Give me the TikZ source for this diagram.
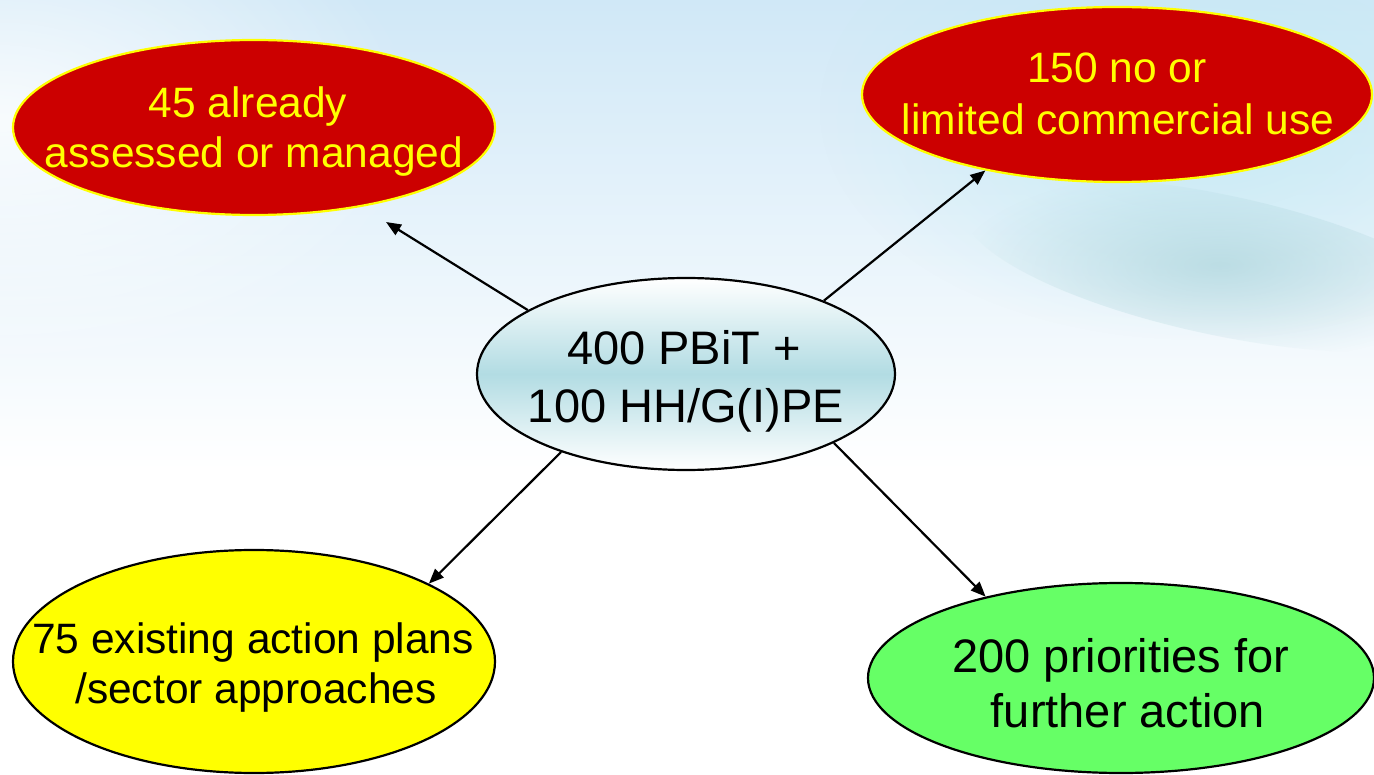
\documentclass[tikz,border=0pt]{standalone}
\usepackage{fontspec}
\setmainfont{Liberation Sans}
\usetikzlibrary{shapes.geometric,arrows.meta,fadings}
\definecolor{redfill}{RGB}{204,0,0}
\definecolor{yel}{RGB}{255,255,0}
\definecolor{grn}{RGB}{102,255,102}
\definecolor{teal1}{RGB}{178,220,227}
\definecolor{bgtop}{RGB}{208,232,247}
\definecolor{bgcyan}{RGB}{196,234,244}
\definecolor{swoosh}{RGB}{165,208,215}
\tikzfading[name=softcirc, inner color=transparent!0, outer color=transparent!100]
\begin{document}
\begin{tikzpicture}[x=1pt,y=-1pt,
  ell/.style={ellipse, inner sep=0pt, line width=2.2pt},
  redell/.style={ell, draw=yel, fill=redfill},
  yelell/.style={ell, draw=black, fill=yel},
  grnell/.style={ell, draw=black, fill=grn},
  cenell/.style={ell, draw=black, top color=white, bottom color=white, middle color=teal1},
  redtxt/.style={anchor=base, text=yel, inner sep=0pt, font=\fontsize{42.5}{50}\selectfont},
  blktxt/.style={anchor=base, text=black, inner sep=0pt, font=\fontsize{42.5}{50}\selectfont},
  bigtxt/.style={anchor=base, text=black, inner sep=0pt, font=\fontsize{47}{56}\selectfont},
  arr/.style={line width=2.2pt, -{Triangle[length=15pt,width=12pt]}}
]
\useasboundingbox (0,0) rectangle (1374,775);
\clip (0,0) rectangle (1374,775);
% background
\fill[white] (0,0) rectangle (1374,775);
\shade[top color=bgtop, bottom color=white] (0,0) rectangle (1374,470);
\fill[white, opacity=0.8, path fading=softcirc] (0,120) ellipse (420 and 260);
\fill[bgcyan, opacity=0.9, path fading=softcirc] (1200,110) ellipse (380 and 230);
\fill[swoosh, opacity=0.6, path fading=softcirc, rotate around={-12:(1220,265)}] (1220,265) ellipse (260 and 70);

% ellipses
\node[redell, minimum width=482pt, minimum height=175pt] (tl) at (254,127.5) {};
\node[redell, minimum width=510pt, minimum height=175pt] (tr) at (1117,94.5) {};
\node[cenell, minimum width=418pt, minimum height=192pt] (c) at (686,374) {};
\node[yelell, minimum width=482pt, minimum height=223pt] (bl) at (254,661.5) {};
\node[grnell, minimum width=506pt, minimum height=190pt] (br) at (1121,678) {};

% texts
\node[redtxt] (tla) at (248,118) {45 already};
\node[redtxt] (tlb) at (254,168) {assessed or managed};
\node[redtxt] (tra) at (1117,83) {150 no or};
\node[redtxt] (trb) at (1118,135) {limited commercial use};
\node[bigtxt] (ca) at (684,365) {400 PBiT +};
\node[bigtxt] (cb) at (686,423) {100 HH/G(I)PE};
\node[blktxt] (bla) at (253,653) {75 existing action plans};
\node[blktxt] (blb) at (256,703) {/sector approaches};
\node[bigtxt] (bra) at (1121,672) {200 priorities for};
\node[bigtxt] (brb) at (1128,727) {further action};

% connectors
\coordinate (tltip) at (386,222);
\draw[arr] (c.158) -- (tltip);
\draw[arr] (c.28) -- (tr.210);
\draw[arr] (c.212) -- (bl.24);
\draw[arr] (c.-25) -- (br.149);
\end{tikzpicture}
\end{document}
